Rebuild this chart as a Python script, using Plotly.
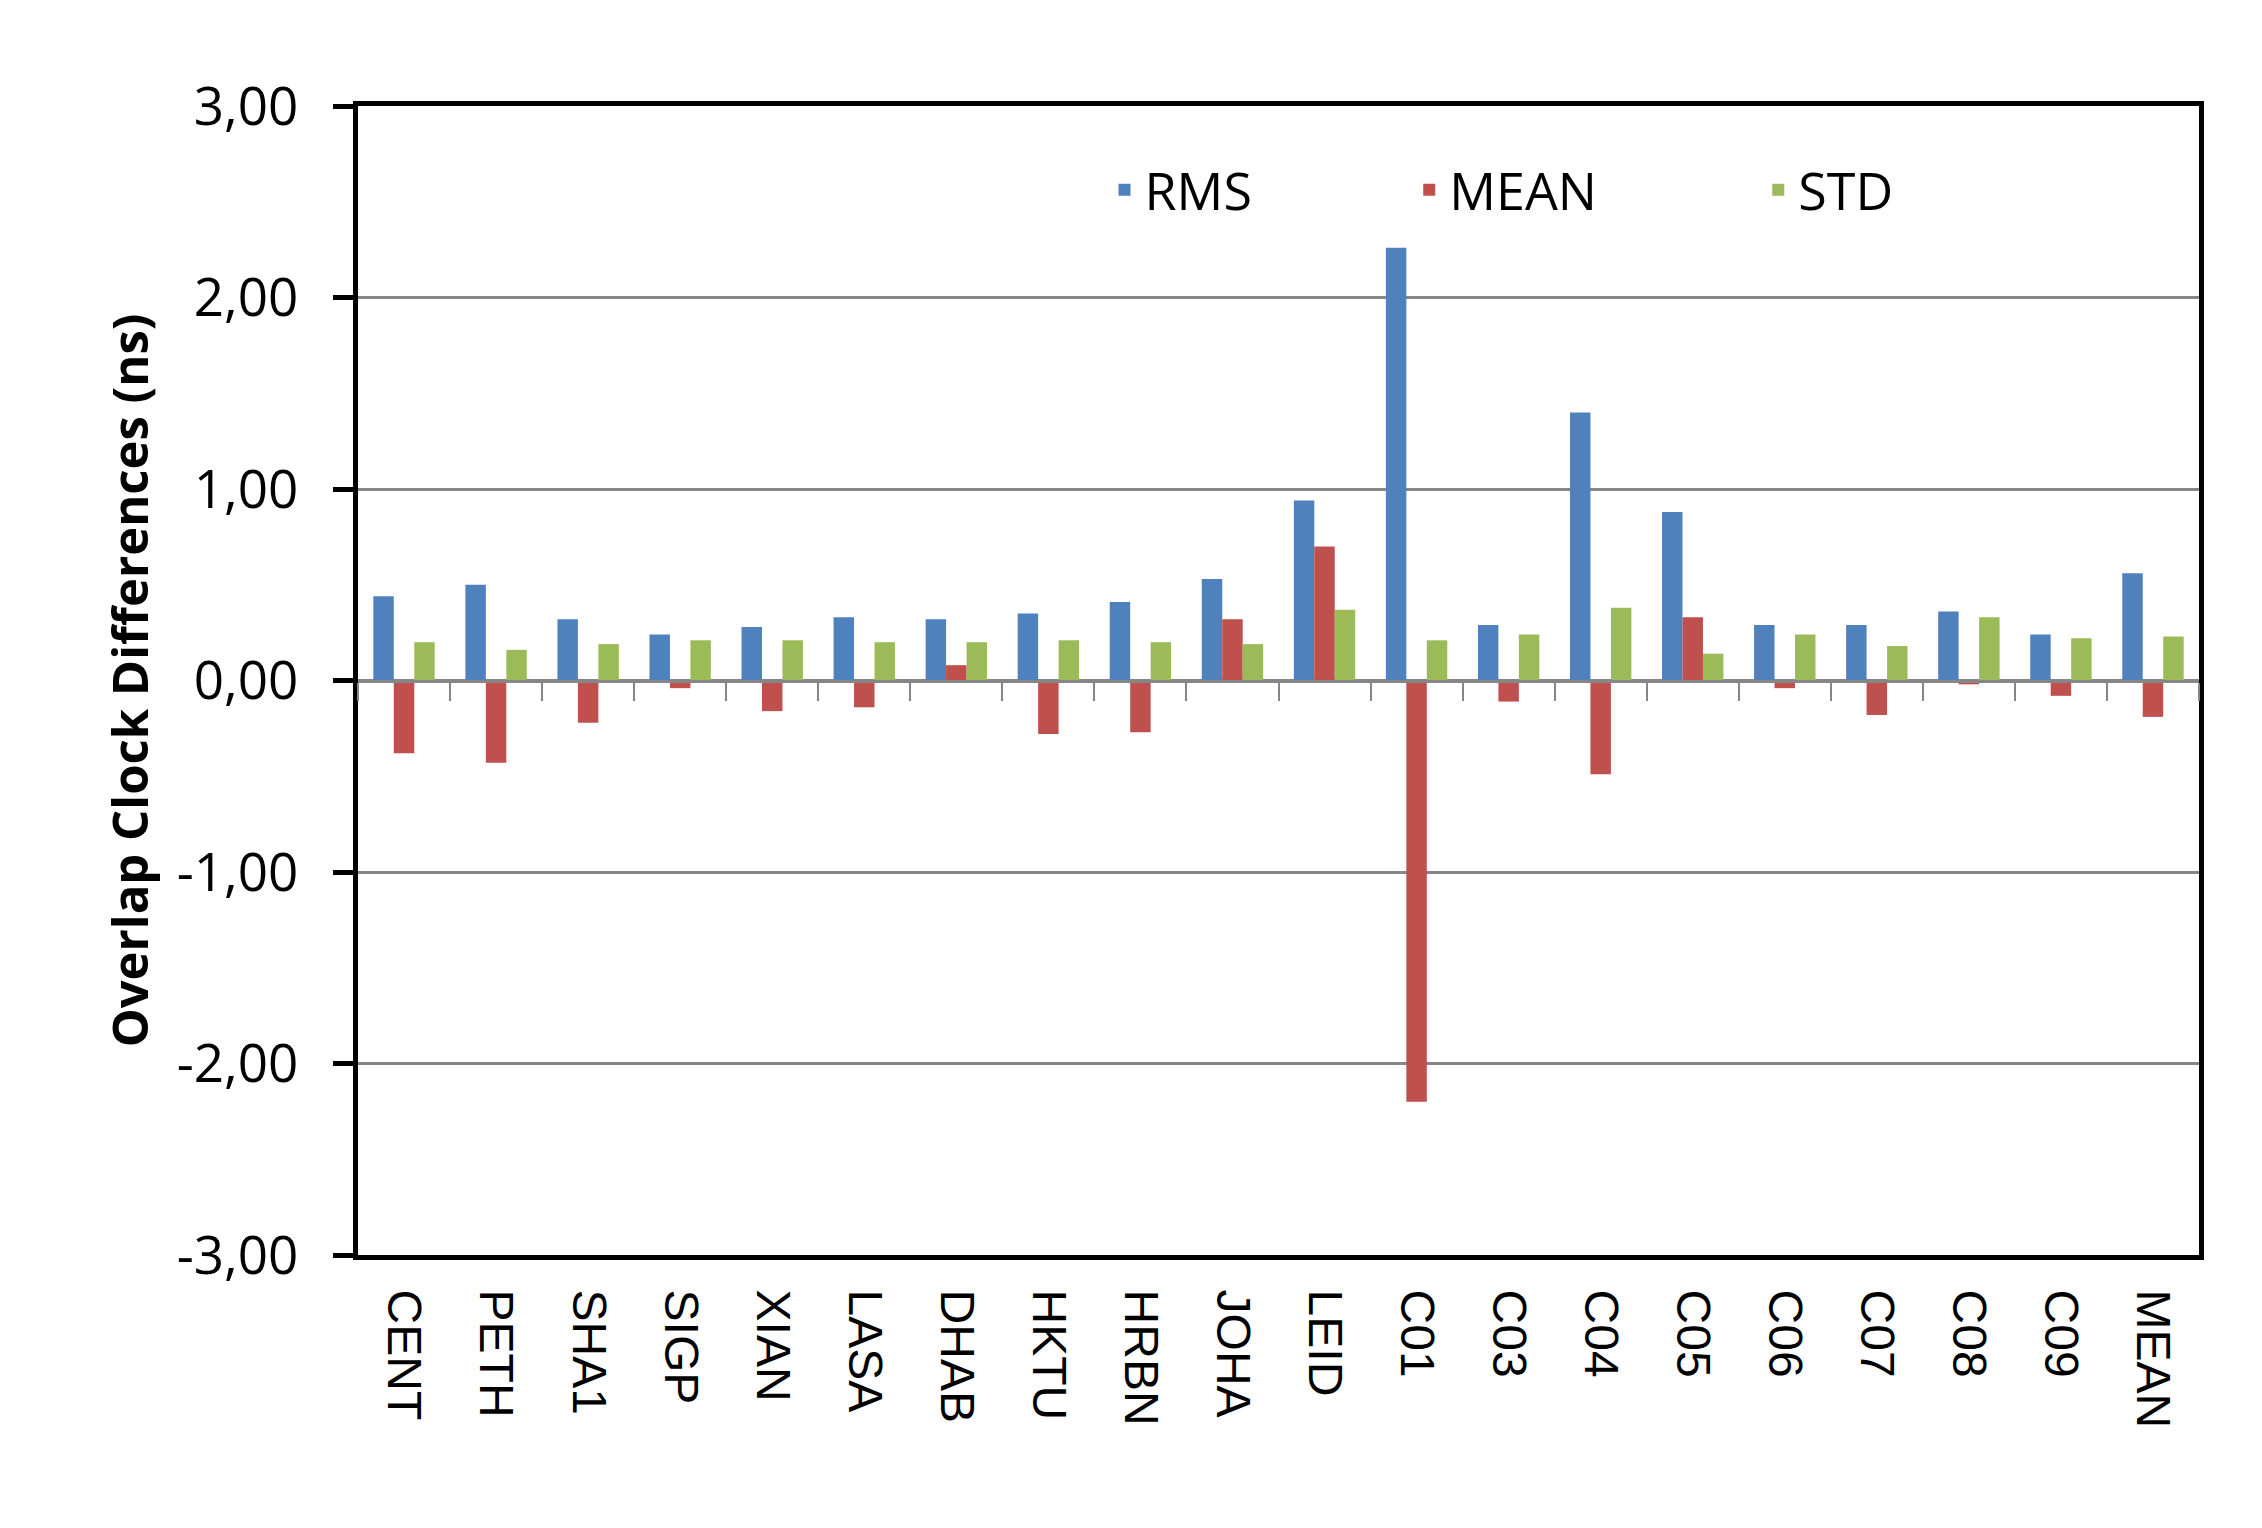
import plotly.graph_objects as go

stations = ["CENT", "PETH", "SHA1", "SIGP", "XIAN", "LASA", "DHAB", "HKTU", "HRBN",
            "JOHA", "LEID", "C01", "C03", "C04", "C05", "C06", "C07", "C08", "C09", "MEAN"]
rms = [0.44, 0.50, 0.32, 0.24, 0.28, 0.33, 0.32, 0.35, 0.41,
       0.53, 0.94, 2.26, 0.29, 1.40, 0.88, 0.29, 0.29, 0.36, 0.24, 0.56]
mean = [-0.38, -0.43, -0.22, -0.04, -0.16, -0.14, 0.08, -0.28, -0.27,
        0.32, 0.70, -2.20, -0.11, -0.49, 0.33, -0.04, -0.18, -0.02, -0.08, -0.19]
std = [0.20, 0.16, 0.19, 0.21, 0.21, 0.20, 0.20, 0.21, 0.20,
       0.19, 0.37, 0.21, 0.24, 0.38, 0.14, 0.24, 0.18, 0.33, 0.22, 0.23]
series_names = ["RMS", "MEAN", "STD"]
colors = ["#4F81BD", "#C0504D", "#9BBB59"]
y_ticks = [-3, -2, -1, 0, 1, 2, 3]
y_ticktext = [f"{v:.2f}".replace(".", ",") for v in y_ticks]

FONT = "Open Sans, Noto Sans, DejaVu Sans, sans-serif"
CAT_FONT = "Liberation Sans Narrow, Liberation Sans, Arial, sans-serif"
GRID = "#868686"

fig = go.Figure()
legends = ["legend", "legend2", "legend3"]
for name, vals, col, lg in zip(series_names, [rms, mean, std], colors, legends):
    fig.add_trace(go.Bar(x=stations, y=vals, name=name, marker=dict(color=col, line=dict(width=0)),
                         legend=lg))

# helper trace so the zero-line axis carries the category boundaries
fig.add_trace(go.Scatter(x=stations, y=[0] * len(stations), xaxis="x2", mode="markers",
                         marker=dict(opacity=0), showlegend=False, hoverinfo="skip"))

legend_common = dict(orientation="h", yanchor="middle", xanchor="left",
                     font=dict(family=FONT, size=52, color="black"),
                     bgcolor="rgba(0,0,0,0)", itemwidth=30)
fig.update_layout(
    width=2262, height=1528,
    margin=dict(l=350, r=71, t=98, b=281),
    paper_bgcolor="white", plot_bgcolor="white",
    barmode="group", bargap=0.333, bargroupgap=0,
    font=dict(family=FONT, color="black"),
    legend=dict(x=0.4055, y=0.927, **legend_common),
    legend2=dict(x=0.571, y=0.927, **legend_common),
    legend3=dict(x=0.7606, y=0.927, **legend_common),
    xaxis=dict(type="category", categoryorder="array", categoryarray=stations,
               range=[-0.5, len(stations) - 0.5],
               showline=True, linecolor="black", linewidth=5, mirror=True,
               ticks="", tickangle=90, ticklabelstandoff=20,
               tickfont=dict(family=CAT_FONT, size=48, color="black"),
               showgrid=False, zeroline=False),
    xaxis2=dict(type="category", categoryorder="array", categoryarray=stations,
                range=[-0.5, len(stations) - 0.5], overlaying="x", anchor="free",
                position=0.5, side="bottom", showline=True, linecolor=GRID, linewidth=3,
                ticks="outside", tickson="boundaries", ticklen=18, tickwidth=2,
                tickcolor=GRID, showticklabels=False, showgrid=False, zeroline=False),
    yaxis=dict(range=[-3, 3], tickvals=y_ticks, ticktext=y_ticktext,
               showline=True, linecolor="black", linewidth=5, mirror=True,
               ticks="outside", ticklen=20, tickwidth=5, tickcolor="black",
               ticklabelstandoff=24,
               tickfont=dict(family=FONT, size=53, color="black"),
               showgrid=True, gridcolor=GRID, gridwidth=2.5, zeroline=False,
               title=dict(text="<b>Overlap Clock Differences (ns)</b>", standoff=14,
                          font=dict(family=FONT, size=49, color="black"))),
)

fig.write_html("out.html")
